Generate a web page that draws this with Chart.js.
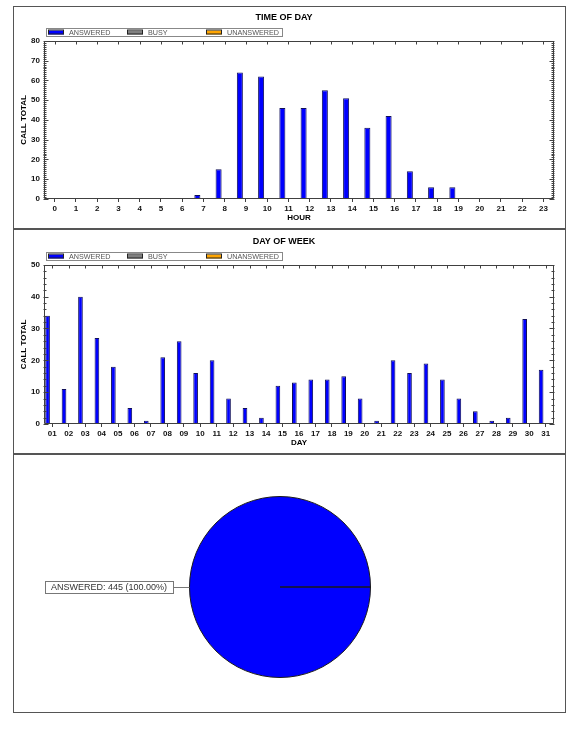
<!DOCTYPE html>
<html>
<head>
<meta charset="utf-8">
<title>Call statistics</title>
<script src="https://cdn.jsdelivr.net/npm/chart.js@4.4.1/dist/chart.umd.min.js"></script>
<style>
  html, body { margin: 0; padding: 0; background: #fff; }
  .panel { position: absolute; left: 13px; width: 553px; border: 1px solid #555; box-sizing: border-box; background: #fff; }
  .wrap { position: absolute; left: 0; top: 0; right: 0; bottom: 0; }
</style>
</head>
<body>
<div class="panel" style="top:6px;height:223px"><div class="wrap"><canvas id="hour-chart"></canvas></div></div>
<div class="panel" style="top:229px;height:225px"><div class="wrap"><canvas id="day-chart"></canvas></div></div>
<div class="panel" style="top:454px;height:259px"><div class="wrap"><canvas id="pie-chart"></canvas></div></div>

<script>
// series names shared by all three charts
const seriesNames = ['ANSWERED', 'BUSY', 'UNANSWERED'];
const seriesColors = ['#0000ff', '#808080', '#ffa500'];

// time of day
const hourLabels = ['0', '1', '2', '3', '4', '5', '6', '7', '8', '9', '10', '11',
  '12', '13', '14', '15', '16', '17', '18', '19', '20', '21', '22', '23'];
const hourAnswered = [0, 0, 0, 0, 0, 0, 0, 2, 15, 64, 62, 46, 46, 55, 51, 36, 42, 14, 6, 6, 0, 0, 0, 0];
const hourBusy = [0, 0, 0, 0, 0, 0, 0, 0, 0, 0, 0, 0, 0, 0, 0, 0, 0, 0, 0, 0, 0, 0, 0, 0];
const hourUnanswered = [0, 0, 0, 0, 0, 0, 0, 0, 0, 0, 0, 0, 0, 0, 0, 0, 0, 0, 0, 0, 0, 0, 0, 0];
const hourTicks = { max: 80, step: 10, minor: 1 };

// day of month
const dayLabels = ['01', '02', '03', '04', '05', '06', '07', '08', '09', '10', '11', '12', '13', '14', '15', '16',
  '17', '18', '19', '20', '21', '22', '23', '24', '25', '26', '27', '28', '29', '30', '31'];
const dayAnswered = [34, 11, 40, 27, 18, 5, 1, 21, 26, 16, 20, 8, 5, 2, 12, 13,
  14, 14, 15, 8, 1, 20, 16, 19, 14, 8, 4, 1, 2, 33, 17];
const dayBusy = [0, 0, 0, 0, 0, 0, 0, 0, 0, 0, 0, 0, 0, 0, 0, 0, 0, 0, 0, 0, 0, 0, 0, 0, 0, 0, 0, 0, 0, 0, 0];
const dayUnanswered = [0, 0, 0, 0, 0, 0, 0, 0, 0, 0, 0, 0, 0, 0, 0, 0, 0, 0, 0, 0, 0, 0, 0, 0, 0, 0, 0, 0, 0, 0, 0];
const dayTicks = { max: 50, step: 10, minor: 2 };

// totals
const pieValues = [445, 0, 0];

const FONT = "'Liberation Sans', Arial, sans-serif";
const LINE = '#404040';

Chart.defaults.font.family = FONT;
Chart.defaults.color = '#000';
Chart.defaults.animation = false;

const crisp = v => Math.round(v) + 0.5;

// frame round the plot, ticks along the top and minor ticks on both sides
const plotFrame = {
  id: 'plotFrame',
  afterDatasetsDraw(chart, args, opts) {
    const { ctx, chartArea: a, scales: { x, y } } = chart;
    const step = chart.options.scales.y.ticks.stepSize;
    const l = crisp(a.left), r = crisp(a.right - 1), t = crisp(a.top), b = crisp(a.bottom - 1);
    ctx.save();
    ctx.strokeStyle = LINE;
    ctx.lineWidth = 1;
    ctx.beginPath();
    ctx.rect(l, t, r - l, b - t);
    x.ticks.forEach((_, i) => {
      const px = crisp(x.getPixelForTick(i));
      ctx.moveTo(px, t);
      ctx.lineTo(px, t + 3);
    });
    for (let v = y.min; v <= y.max; v += opts.minor) {
      const py = crisp(y.getPixelForValue(v));
      const major = v % step === 0;
      ctx.moveTo(l - 1, py);
      ctx.lineTo(l + (major ? 4 : 2), py);
      ctx.moveTo(r - (major ? 4 : 2), py);
      ctx.lineTo(r + 1, py);
    }
    ctx.stroke();
    ctx.restore();
  }
};

// boxed legend above the plot, fixed spacing between items
const boxLegend = {
  id: 'boxLegend',
  afterDraw(chart, args, opts) {
    const { ctx, chartArea: a } = chart;
    const left = Math.round(a.left) + 2;
    const top = Math.round(a.top) - 13;
    const cy = top + 4.5;
    ctx.save();
    ctx.fillStyle = '#fff';
    ctx.fillRect(left, top, opts.width, 9);
    ctx.strokeStyle = '#888';
    ctx.lineWidth = 1;
    ctx.strokeRect(left + 0.5, top + 0.5, opts.width, 8);
    ctx.font = '7.2px ' + FONT;
    ctx.textBaseline = 'middle';
    chart.data.datasets.forEach((ds, i) => {
      const ix = left + 2 + i * opts.spacing;
      ctx.fillStyle = ds.backgroundColor;
      ctx.fillRect(ix, cy - 2, 16, 4);
      ctx.strokeStyle = '#222';
      ctx.strokeRect(ix + 0.5, cy - 2.5, 15, 4);
      ctx.fillStyle = '#555';
      ctx.fillText(ds.label, ix + 21, cy + 0.5);
    });
    ctx.restore();
  }
};

function barChart(id, title, xTitle, labels, answered, busy, unanswered, ticks, topPad) {
  const values = [answered, busy, unanswered];
  return new Chart(document.getElementById(id), {
    type: 'bar',
    data: {
      labels: labels,
      datasets: seriesNames.map((name, i) => ({
        label: name,
        data: values[i],
        backgroundColor: seriesColors[i],
        borderColor: '#10105a',
        borderWidth: i === 0 ? 1 : 0,
        barPercentage: 1,
        categoryPercentage: 0.85
      }))
    },
    options: {
      responsive: true,
      maintainAspectRatio: false,
      layout: { padding: { top: topPad, right: 11, bottom: 0, left: 0 } },
      plugins: {
        legend: { display: false },
        tooltip: { enabled: false },
        title: {
          display: true,
          text: title,
          color: '#000',
          font: { size: 9, weight: 'bold' },
          padding: { top: 5, bottom: 18 }
        },
        boxLegend: { width: 236, spacing: 79 },
        plotFrame: { minor: ticks.minor }
      },
      scales: {
        x: {
          grid: { display: true, drawOnChartArea: false, drawTicks: true, tickLength: 3, offset: false, color: LINE },
          border: { display: false },
          ticks: { autoSkip: false, maxRotation: 0, padding: 2, color: '#111', font: { size: 8, weight: 'bold' } },
          title: { display: true, text: xTitle, color: '#000', font: { size: 8, weight: 'bold' }, padding: { top: 0, bottom: 5 } },
          afterFit(scale) { scale.height = 29; }
        },
        y: {
          min: 0,
          max: ticks.max,
          grid: { display: false, drawTicks: false },
          border: { display: false },
          ticks: { stepSize: ticks.step, padding: 4, color: '#111', font: { size: 8, weight: 'bold' } },
          title: { display: true, text: 'CALL TOTAL', color: '#000', font: { size: 8, weight: 'bold' }, padding: { top: 4.5, bottom: 0 } },
          afterFit(scale) { scale.width = 30; }
        }
      }
    },
    plugins: [plotFrame, boxLegend]
  });
}

window.hourChart = barChart('hour-chart', 'TIME OF DAY', 'HOUR',
  hourLabels, hourAnswered, hourBusy, hourUnanswered, hourTicks, 0);
window.dayChart = barChart('day-chart', 'DAY OF WEEK', 'DAY',
  dayLabels, dayAnswered, dayBusy, dayUnanswered, dayTicks, 1);

// boxed callout on the left of each non-empty slice
const pieCallout = {
  id: 'pieCallout',
  afterDraw(chart) {
    const { ctx } = chart;
    const ds = chart.data.datasets[0];
    const total = ds.data.reduce((s, v) => s + v, 0);
    chart.getDatasetMeta(0).data.forEach((arc, i) => {
      const v = ds.data[i];
      if (!v) return;
      const mid = (arc.startAngle + arc.endAngle) / 2;
      const ex = arc.x + Math.cos(mid) * arc.outerRadius;
      const ey = crisp(arc.y + Math.sin(mid) * arc.outerRadius);
      const text = chart.data.labels[i] + ': ' + v + ' (' + (v / total * 100).toFixed(2) + '%)';
      ctx.save();
      ctx.font = '9px ' + FONT;
      const w = Math.round(ctx.measureText(text).width) + 12;
      const boxRight = Math.round(ex) - 17;
      const boxLeft = boxRight - w;
      ctx.strokeStyle = '#777';
      ctx.lineWidth = 1;
      ctx.beginPath();
      ctx.moveTo(boxRight, ey);
      ctx.lineTo(ex, ey);
      ctx.stroke();
      ctx.fillStyle = '#fff';
      ctx.fillRect(boxLeft, ey - 6.5, w, 12);
      ctx.strokeRect(boxLeft + 0.5, ey - 6, w, 12);
      ctx.fillStyle = '#333';
      ctx.textBaseline = 'middle';
      ctx.fillText(text, boxLeft + 6, ey + 0.5);
      ctx.restore();
    });
  }
};

window.pieChart = new Chart(document.getElementById('pie-chart'), {
  type: 'pie',
  data: {
    labels: seriesNames,
    datasets: [{
      data: pieValues,
      backgroundColor: seriesColors,
      borderColor: '#1a1a1a',
      borderWidth: 1
    }]
  },
  options: {
    responsive: true,
    maintainAspectRatio: false,
    rotation: 90,
    layout: { padding: { top: 41, right: 19, bottom: 34, left: 0 } },
    plugins: { legend: { display: false }, tooltip: { enabled: false } }
  },
  plugins: [pieCallout]
});
</script>
</body>
</html>
